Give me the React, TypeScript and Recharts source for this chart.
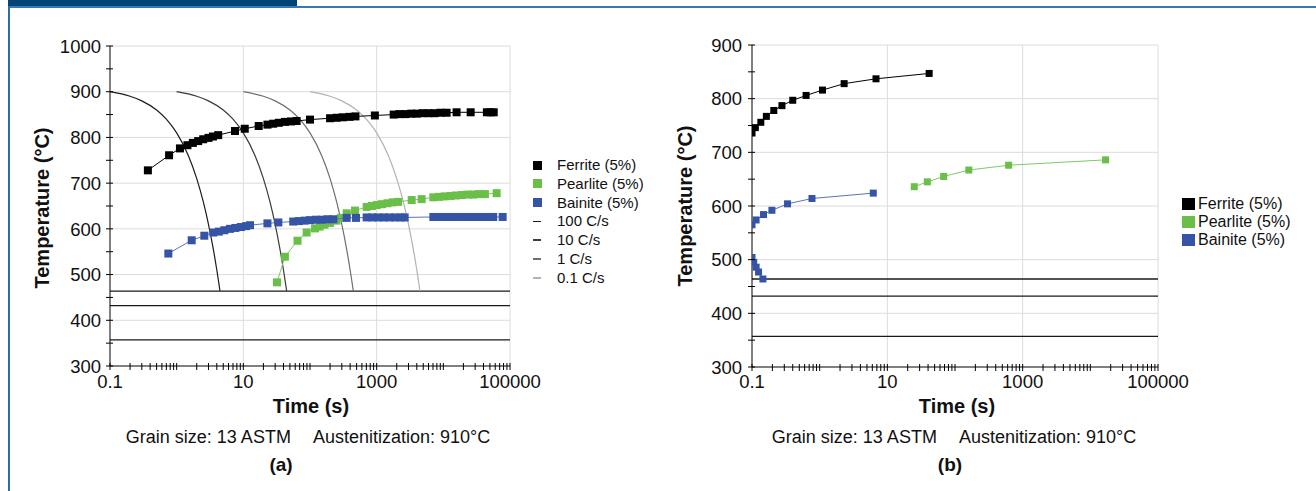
import React from 'react';
import { ScatterChart, Scatter, XAxis, YAxis, ReferenceLine, CartesianGrid } from 'recharts';

const FONT = '"Liberation Sans", Arial, Helvetica, sans-serif';

// ---------- axes ----------
const X_LABELS = [0.1, 10, 1000, 100000];
const DECADES = [0.1, 1, 10, 100, 1000, 10000];
const MULTS = [1, 2, 3, 4, 5, 6, 7, 8, 9];
const X_TICKS = [...DECADES.flatMap((d) => MULTS.map((m) => +(d * m).toPrecision(6))), 100000];
const X_GRID = [10, 1000, 100000];
const Y_TICKS_A = [300, 350, 400, 450, 500, 550, 600, 650, 700, 750, 800, 850, 900, 950, 1000];
const Y_GRID_A = [400, 500, 600, 700, 800, 900, 1000];
const Y_TICKS_B = [300, 350, 400, 450, 500, 550, 600, 650, 700, 750, 800, 850, 900];
const Y_GRID_B = [400, 500, 600, 700, 800, 900];

// isotherm (horizontal) lines, °C
const ISO_LINES = [464, 432, 357];

// ---------- chart (a) ----------
const FERRITE_A: [number, number][] = [
  [0.37, 728], [0.77, 761], [1.12, 776], [1.45, 783], [1.75, 788], [2.1, 792], [2.5, 796], [3.0, 799], [3.5, 802], [4.2, 805],
  [7.5, 814], [10.5, 819], [17, 825], [23, 828], [28, 830], [34, 832], [42, 834], [52, 835], [63, 836],
  [100, 839], [200, 842], [250, 843], [310, 844], [390, 845], [480, 846],
  [940, 848], [1800, 850], [2200, 851], [2700, 851], [3300, 852], [4000, 852], [4900, 853], [6000, 853], [7400, 853], [9100, 854], [11200, 854],
  [15800, 855], [25700, 855], [45000, 855], [51000, 855], [57000, 855],
];
const PEARLITE_A: [number, number][] = [
  [32, 483], [42, 539], [65, 574], [89, 592], [119, 601], [140, 605], [165, 609], [200, 613], [250, 618], [290, 624],
  [355, 634], [473, 640], [708, 648], [850, 650], [1000, 652], [1200, 654], [1450, 656], [1750, 658], [2100, 659],
  [3350, 663], [4730, 665], [7080, 669], [8600, 670], [10500, 671], [12800, 672], [15600, 673], [19000, 674],
  [23000, 675], [28000, 675], [34000, 676], [42000, 676], [63000, 678],
];
const BAINITE_A: [number, number][] = [
  [0.75, 546], [1.68, 575], [2.6, 585], [3.55, 592], [4.3, 594], [5.2, 597], [6.3, 600], [7.6, 602], [9.2, 604], [11, 606], [12.6, 608],
  [23, 612], [33.5, 614], [56, 616], [68, 617], [83, 618], [100, 619], [122, 620], [150, 620], [183, 621], [224, 621],
  [355, 624], [490, 624], [708, 625], [860, 625], [1050, 625], [1280, 625], [1550, 625], [1900, 625], [2300, 625], [2630, 625],
  [7080, 626], [8700, 626], [10600, 626], [13000, 626], [16000, 626], [19500, 626], [24000, 626], [29000, 626], [35000, 626],
  [43000, 626], [52000, 626], [56000, 626], [77600, 626],
];
const COOL_100: [number, number][] = [
  [0.1, 900], [0.2, 890], [0.3, 880], [0.5, 860], [0.7, 840], [1, 810], [1.5, 760], [2, 710], [2.5, 660], [3, 610], [3.5, 560], [4, 510], [4.3, 480], [4.46, 464],
];
const COOL_10: [number, number][] = [
  [1, 900], [2, 890], [3, 880], [5, 860], [7, 840], [10, 810], [15, 760], [20, 710], [25, 660], [30, 610], [35, 560], [40, 510], [43, 480], [44.6, 464],
];
const COOL_1: [number, number][] = [
  [10, 900], [20, 890], [30, 880], [50, 860], [70, 840], [100, 810], [150, 760], [200, 710], [250, 660], [300, 610], [350, 560], [400, 510], [430, 480], [446, 464],
];
const COOL_01: [number, number][] = [
  [100, 900], [200, 890], [300, 880], [500, 860], [700, 840], [1000, 810], [1500, 760], [2000, 710], [2500, 660], [3000, 610], [3500, 560], [4000, 510], [4300, 480], [4460, 464],
];

// ---------- chart (b) ----------
const FERRITE_B: [number, number][] = [
  [0.1, 736], [0.112, 746], [0.135, 756], [0.163, 767], [0.21, 778], [0.277, 787], [0.4, 797], [0.63, 806], [1.1, 816], [2.3, 828], [6.8, 837], [41.5, 847],
];
const PEARLITE_B: [number, number][] = [
  [25, 636], [39, 645], [68, 655], [160, 667], [620, 676], [16800, 686],
];
const BAINITE_B_UPPER: [number, number][] = [
  [0.1, 565], [0.115, 574], [0.148, 584], [0.197, 592], [0.335, 604], [0.77, 614], [6.2, 624],
];
const BAINITE_B_LOWER: [number, number][] = [
  [0.1, 504], [0.106, 495], [0.115, 486], [0.125, 477], [0.145, 464],
];

const BLACK = '#000000';
const GREEN = '#69bf48';
const GREEN_LINE = '#7fca62';
const BLUE = '#3654a6';
const BLUE_LINE = '#5a74bb';
const COOL_COLORS = ['#1c1c1c', '#3a3a3a', '#6f6f6f', '#b3b3b3'];

const toPts = (arr: [number, number][]) => arr.map(([t, T]) => ({ t, T }));

const square = (size: number, color: string) => (p: any) => (
  <rect x={p.cx - size / 2} y={p.cy - size / 2} width={size} height={size} fill={color} />
);
const noShape = () => <g />;

const isLabel = (v: number) => X_LABELS.some((l) => Math.abs(l - v) / l < 1e-6);

const XTick = (props: any) => {
  const { x, y, payload, dyText } = props;
  const v = payload.value;
  return (
    <g>
      <line x1={x} x2={x} y1={y - 3} y2={y + 4} stroke="#000" strokeWidth={1} />
      {isLabel(v) && (
        <text x={x} y={y + dyText} textAnchor="middle" fontSize={18.5} fontFamily={FONT} fill="#111">
          {String(v)}
        </text>
      )}
    </g>
  );
};

const YTick = (props: any) => {
  const { x, y, payload, gap } = props;
  const v = payload.value;
  return (
    <g>
      <line x1={x - 4} x2={x + 3} y1={y} y2={y} stroke="#000" strokeWidth={1} />
      {v % 100 === 0 && (
        <text x={x - gap} y={y} dy="0.36em" textAnchor="end" fontSize={18.5} fontFamily={FONT} fill="#111">
          {String(v)}
        </text>
      )}
    </g>
  );
};

const Frame = () => (
  <>
    <div style={{ position: 'absolute', left: 8, top: 0, width: 289, height: 6, background: '#004578' }} />
    <div style={{ position: 'absolute', left: 8, top: 6, width: 1308, height: 1.5, background: '#3b78ae' }} />
    <div style={{ position: 'absolute', left: 8, top: 6, width: 2, height: 485, background: '#2d6ca5' }} />
  </>
);

const Text = ({ x, y, size, bold, rotate, children }: any) => (
  <div
    style={{
      position: 'absolute',
      left: x,
      top: y,
      transform: `translate(-50%, -50%)${rotate ? ' rotate(-90deg)' : ''}`,
      whiteSpace: 'nowrap',
      fontSize: size,
      fontWeight: bold ? 700 : 400,
      fontFamily: FONT,
      color: '#111',
      lineHeight: 1,
    }}
  >
    {children}
  </div>
);

const Caption = ({ x, y }: any) => (
  <Text x={x} y={y} size={18}>
    <span>Grain size: 13 ASTM</span>
    <span style={{ marginLeft: 22 }}>Austenitization: 910°C</span>
  </Text>
);

const LEGEND_A = [
  { label: 'Ferrite (5%)', color: BLACK, kind: 'sq' },
  { label: 'Pearlite (5%)', color: GREEN, kind: 'sq' },
  { label: 'Bainite (5%)', color: BLUE, kind: 'sq' },
  { label: '100 C/s', color: COOL_COLORS[0], kind: 'ln' },
  { label: '10 C/s', color: COOL_COLORS[1], kind: 'ln' },
  { label: '1 C/s', color: COOL_COLORS[2], kind: 'ln' },
  { label: '0.1 C/s', color: COOL_COLORS[3], kind: 'ln' },
];
const LEGEND_B = LEGEND_A.slice(0, 3);

const LegendA = () => (
  <>
    {LEGEND_A.map((it, i) => {
      const cy = 165 + i * 18.8;
      return (
        <React.Fragment key={it.label}>
          {it.kind === 'sq' ? (
            <div style={{ position: 'absolute', left: 533, top: cy - 4.5, width: 9, height: 9, background: it.color }} />
          ) : (
            <div style={{ position: 'absolute', left: 533, top: cy - 0.75, width: 8, height: 1.5, background: it.color }} />
          )}
          <div style={{ position: 'absolute', left: 557, top: cy - 9, height: 18, lineHeight: '18px', fontSize: 15, fontFamily: FONT, color: '#111', whiteSpace: 'nowrap' }}>
            {it.label}
          </div>
        </React.Fragment>
      );
    })}
  </>
);

const LegendB = () => (
  <>
    {LEGEND_B.map((it, i) => {
      const cy = 204 + i * 18;
      return (
        <React.Fragment key={it.label}>
          <div style={{ position: 'absolute', left: 1182, top: cy - 6, width: 13, height: 12, background: it.color }} />
          <div style={{ position: 'absolute', left: 1198, top: cy - 9, height: 18, lineHeight: '18px', fontSize: 16, fontFamily: FONT, color: '#111', whiteSpace: 'nowrap' }}>
            {it.label}
          </div>
        </React.Fragment>
      );
    })}
  </>
);

const ChartA = () => (
  <ScatterChart width={560} height={400} margin={{ top: 46, right: 50, bottom: 0, left: 0 }}>
    <CartesianGrid stroke="#dcdcdc" horizontalValues={Y_GRID_A} verticalValues={X_GRID} />
    <XAxis
      dataKey="t"
      type="number"
      scale="log"
      domain={[0.1, 100000]}
      allowDataOverflow
      ticks={X_TICKS}
      interval={0}
      tickLine={false}
      tickSize={0}
      tickMargin={0}
      height={34}
      axisLine={{ stroke: '#000' }}
      tick={(p: any) => <XTick {...p} dyText={22} />}
    />
    <YAxis
      dataKey="T"
      type="number"
      domain={[300, 1000]}
      allowDataOverflow
      ticks={Y_TICKS_A}
      interval={0}
      tickLine={false}
      tickSize={0}
      tickMargin={0}
      width={110}
      axisLine={{ stroke: '#000' }}
      tick={(p: any) => <YTick {...p} gap={9} />}
    />
    {ISO_LINES.map((v) => (
      <ReferenceLine key={v} y={v} stroke="#1a1a1a" strokeWidth={1.3} />
    ))}
    {[COOL_100, COOL_10, COOL_1, COOL_01].map((c, i) => (
      <Scatter
        key={i}
        data={toPts(c)}
        fill={COOL_COLORS[i]}
        line={{ stroke: COOL_COLORS[i], strokeWidth: 1.2 }}
        lineJointType="monotoneX"
        shape={noShape}
        isAnimationActive={false}
      />
    ))}
    <Scatter data={toPts(FERRITE_A)} fill={BLACK} line={{ stroke: BLACK, strokeWidth: 1 }} shape={square(8, BLACK)} isAnimationActive={false} />
    <Scatter data={toPts(PEARLITE_A)} fill={GREEN} line={{ stroke: GREEN_LINE, strokeWidth: 1 }} shape={square(8, GREEN)} isAnimationActive={false} />
    <Scatter data={toPts(BAINITE_A)} fill={BLUE} line={{ stroke: BLUE_LINE, strokeWidth: 1 }} shape={square(8, BLUE)} isAnimationActive={false} />
  </ScatterChart>
);

const ChartB = () => (
  <ScatterChart width={570} height={400} margin={{ top: 45, right: 52, bottom: 0, left: 0 }}>
    <CartesianGrid stroke="#dcdcdc" horizontalValues={Y_GRID_B} verticalValues={X_GRID} />
    <XAxis
      dataKey="t"
      type="number"
      scale="log"
      domain={[0.1, 100000]}
      allowDataOverflow
      ticks={X_TICKS}
      interval={0}
      tickLine={false}
      tickSize={0}
      tickMargin={0}
      height={33}
      axisLine={{ stroke: '#000' }}
      tick={(p: any) => <XTick {...p} dyText={21} />}
    />
    <YAxis
      dataKey="T"
      type="number"
      domain={[300, 900]}
      allowDataOverflow
      ticks={Y_TICKS_B}
      interval={0}
      tickLine={false}
      tickSize={0}
      tickMargin={0}
      width={112}
      axisLine={{ stroke: '#000' }}
      tick={(p: any) => <YTick {...p} gap={10} />}
    />
    {ISO_LINES.map((v) => (
      <ReferenceLine key={v} y={v} stroke="#1a1a1a" strokeWidth={1.3} />
    ))}
    <Scatter data={toPts(FERRITE_B)} fill={BLACK} line={{ stroke: BLACK, strokeWidth: 1 }} shape={square(7, BLACK)} isAnimationActive={false} />
    <Scatter data={toPts(PEARLITE_B)} fill={GREEN} line={{ stroke: GREEN_LINE, strokeWidth: 1 }} shape={square(7, GREEN)} isAnimationActive={false} />
    <Scatter data={toPts(BAINITE_B_UPPER)} fill={BLUE} line={{ stroke: BLUE_LINE, strokeWidth: 1 }} shape={square(7, BLUE)} isAnimationActive={false} />
    <Scatter data={toPts(BAINITE_B_LOWER)} fill={BLUE} line={{ stroke: BLUE_LINE, strokeWidth: 1 }} shape={square(7, BLUE)} isAnimationActive={false} />
  </ScatterChart>
);

export default function App() {
  return (
    <div style={{ position: 'absolute', left: 0, top: 0, width: 1316, height: 491, background: '#fff', overflow: 'hidden', fontFamily: FONT }}>
      <Frame />
      <div style={{ position: 'absolute', left: 0, top: 0 }}>
        <ChartA />
      </div>
      <div style={{ position: 'absolute', left: 640, top: 0 }}>
        <ChartB />
      </div>
      <LegendA />
      <LegendB />
      <Text x={42} y={208} size={20} bold rotate>Temperature (°C)</Text>
      <Text x={685} y={206} size={20} bold rotate>Temperature (°C)</Text>
      <Text x={311} y={406} size={20} bold>Time (s)</Text>
      <Text x={957} y={406} size={20} bold>Time (s)</Text>
      <Caption x={308} y={437} />
      <Caption x={954} y={437} />
      <Text x={281} y={464} size={19} bold>(a)</Text>
      <Text x={950} y={464} size={19} bold>(b)</Text>
    </div>
  );
}
